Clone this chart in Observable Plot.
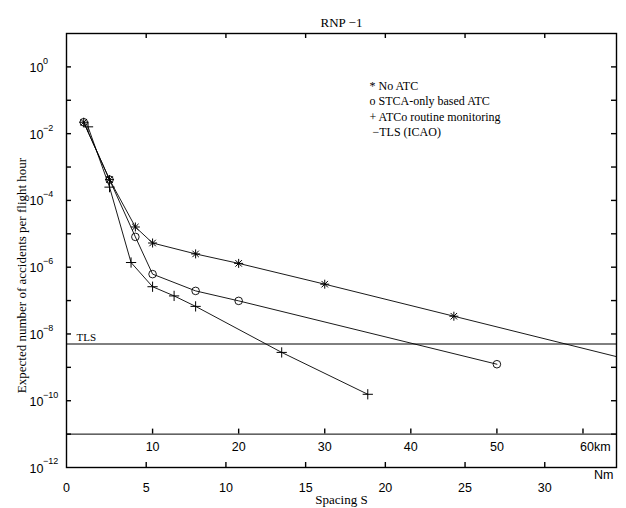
<!DOCTYPE html>
<html><head><meta charset="utf-8">
<script src="https://cdn.jsdelivr.net/npm/d3@7"></script>
<script src="https://cdn.jsdelivr.net/npm/@observablehq/plot@0.6"></script>
<style>body{margin:0;background:#fff} #chart svg{display:block;background:#fff}</style>
</head><body><div id="chart"></div>
<script>
// ---- data (spacing in km, converted to Nm for the x scale) ----
const KM_PER_NM = 1.852;
const noAtcKm  = [2, 5, 8, 10, 15, 20, 30, 45, 70];
const noAtcVal = [2.2e-2, 4.2e-4, 1.6e-5, 5.3e-6, 2.5e-6, 1.3e-6, 3.1e-7, 3.4e-8, 8.5e-10];
const stcaKm   = [2, 5, 8, 10, 15, 20, 50];
const stcaVal  = [2.2e-2, 4.2e-4, 8.1e-6, 6.2e-7, 1.95e-7, 9.8e-8, 1.24e-9];
const atcoKm   = [2.5, 5, 7.5, 10, 12.5, 15, 25, 35];
const atcoVal  = [1.6e-2, 2.5e-4, 1.38e-6, 2.6e-7, 1.38e-7, 6.7e-8, 2.8e-9, 1.56e-10];
const tlsValue = 5e-9;
const kmAxisLevel = 1e-11;
const xDomain = [0, 34.5];
const yDomain = [1e-12, 10];
const nmTicks = [0, 5, 10, 15, 20, 25, 30];
const kmTicks = [10, 20, 30, 40, 50, 60];
const kmTickLabels = ["10", "20", "30", "40", "50", "60km"];
const yLabelExps = [0, -2, -4, -6, -8, -10, -12];
const yTickExps = [0, -1, -2, -3, -4, -5, -6, -7, -8, -9, -10, -11];
const legendLines = ["* No ATC", "o STCA-only based ATC", "+ ATCo routine monitoring", "\u00a0\u2212TLS (ICAO)"];
const titleText = "RNP \u22121";
const xLabel = "Spacing S";
const yLabel = "Expected number of accidents per flight hour";

// layout
const W = 626, H = 508, ML = 66, MR = 10, MT = 33, MB = 41, TICK = 5;
const frameW = W - ML - MR, frameH = H - MT - MB;
const decades = Math.log10(yDomain[1]) - Math.log10(yDomain[0]);
const kmAxisFromBottom = frameH * (Math.log10(kmAxisLevel) - Math.log10(yDomain[0])) / decades;

const toRows = (km, v) => km.map((k, i) => ({x: k / KM_PER_NM, y: v[i]}));
const noAtc = toRows(noAtcKm, noAtcVal);
const stca = toRows(stcaKm, stcaVal);
const atco = toRows(atcoKm, atcoVal);
const kmRows = kmTicks.map((k, i) => ({x: k / KM_PER_NM, label: kmTickLabels[i]}));
const xInner = nmTicks.slice(1);
const yInner = yTickExps.map(e => 10 ** e);

const star = {draw(ctx, size) {
  const r = Math.sqrt(size / Math.PI), d = r * 0.72;
  ctx.moveTo(-r, 0); ctx.lineTo(r, 0); ctx.moveTo(0, -r); ctx.lineTo(0, r);
  ctx.moveTo(-d, -d); ctx.lineTo(d, d); ctx.moveTo(-d, d); ctx.lineTo(d, -d);
}};

const sans = "Liberation Sans, Arial, sans-serif";
const serif = "Liberation Serif, Times New Roman, serif";
const tk = {stroke: "black", strokeWidth: 1.4};

const chart = Plot.plot({
  width: W, height: H,
  marginLeft: ML, marginRight: MR, marginTop: MT, marginBottom: MB,
  x: {type: "linear", domain: xDomain},
  y: {type: "log", domain: yDomain, axis: null},
  style: {background: "white", color: "black"},
  marks: [
    // inward frame ticks
    Plot.tickX(xInner, {x: d => d, insetTop: frameH - TICK, ...tk}),
    Plot.tickX(xInner, {x: d => d, insetBottom: frameH - TICK, ...tk}),
    Plot.tickY(yInner, {y: d => d, insetRight: frameW - TICK, ...tk}),
    Plot.tickY(yInner, {y: d => d, insetLeft: frameW - TICK, ...tk}),
    // x tick labels
    Plot.axisX(nmTicks, {anchor: "bottom", tickSize: 0, tickPadding: 16, fontSize: 12.5, fontFamily: sans, label: null}),
    // y tick labels 10^e
    Plot.text(yLabelExps, {x: () => 0, y: e => 10 ** e, text: () => "10", textAnchor: "start", dx: -37, dy: 1, fontSize: 12.5, fontFamily: sans}),
    Plot.text(yLabelExps, {x: () => 0, y: e => 10 ** e, text: e => e === 0 ? "0" : "\u2212" + (-e), textAnchor: "start", dx: -23.5, dy: -6, fontSize: 9, fontFamily: sans}),
    // reference lines
    Plot.ruleY([tlsValue], {stroke: "black", strokeWidth: 1}),
    Plot.ruleY([kmAxisLevel], {stroke: "black", strokeWidth: 1}),
    Plot.tickX(kmRows, {x: "x", insetBottom: kmAxisFromBottom, insetTop: frameH - kmAxisFromBottom - TICK, ...tk}),
    Plot.text(kmRows.slice(0, 5), {x: "x", y: () => kmAxisLevel, text: "label", dy: 13, fontSize: 12.5, fontFamily: sans}),
    Plot.text(kmRows.slice(5), {x: "x", y: () => kmAxisLevel, text: "label", dy: 13, dx: -3, textAnchor: "start", fontSize: 12.5, fontFamily: sans}),
    Plot.text(["TLS"], {x: () => 0, y: () => tlsValue, dx: 10, dy: -7, textAnchor: "start", fontSize: 11, fontFamily: serif}),
    // series
    Plot.line(noAtc, {x: "x", y: "y", stroke: "black", strokeWidth: 0.9, clip: true}),
    Plot.line(stca, {x: "x", y: "y", stroke: "black", strokeWidth: 0.9}),
    Plot.line(atco, {x: "x", y: "y", stroke: "black", strokeWidth: 0.9}),
    Plot.dot(noAtc, {x: "x", y: "y", symbol: star, r: 4.5, stroke: "black", fill: "none", strokeWidth: 1, clip: true}),
    Plot.dot(stca, {x: "x", y: "y", symbol: "circle", r: 3.8, stroke: "black", fill: "none", strokeWidth: 0.9}),
    Plot.dot(atco, {x: "x", y: "y", symbol: "plus", r: 3.4, stroke: "black", fill: "none", strokeWidth: 1}),
    // legend
    Plot.text([legendLines.join("\n")], {frameAnchor: "top-left", dx: 303, dy: 45, lineAnchor: "top", lineHeight: 1.3, textAnchor: "start", fontSize: 12, fontFamily: serif}),
    // titles
    Plot.text([titleText], {frameAnchor: "top", dy: -16, fontSize: 13, fontFamily: serif}),
    Plot.text([xLabel], {frameAnchor: "bottom", dy: 36, fontSize: 13, fontFamily: serif}),
    Plot.text([yLabel], {frameAnchor: "left", dx: -45, dy: 25, rotate: -90, textAnchor: "middle", fontSize: 13, fontFamily: serif}),
    Plot.text(["Nm"], {frameAnchor: "bottom-right", dx: -3, dy: 11, textAnchor: "end", fontSize: 12.5, fontFamily: sans}),
    Plot.frame({stroke: "black", strokeWidth: 1.4})
  ]
});
document.getElementById("chart").appendChild(chart);
</script>
</body></html>
